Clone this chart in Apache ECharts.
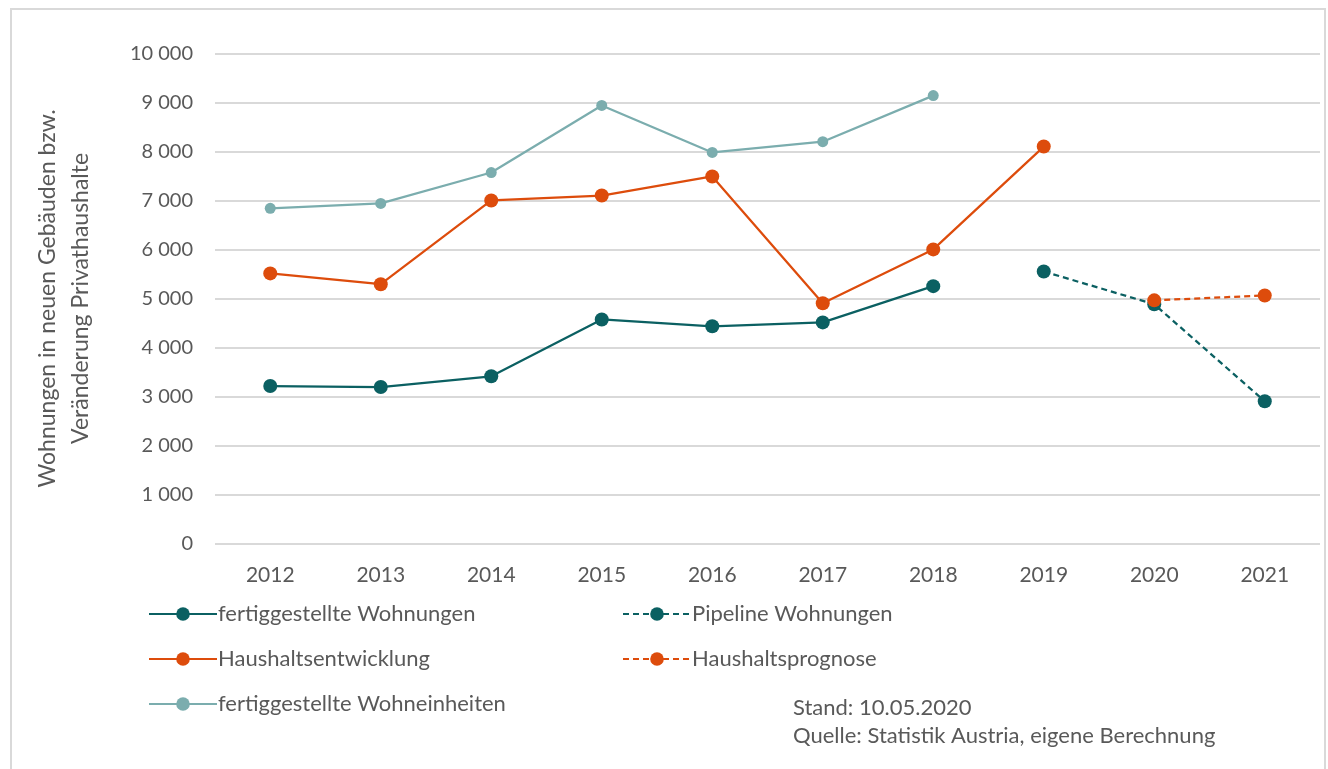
<!DOCTYPE html>
<html>
<head>
<meta charset="utf-8">
<script src="https://cdn.jsdelivr.net/npm/echarts@6/dist/echarts.min.js"></script>
<style>
  html, body { margin: 0; padding: 0; background: #fff; }
  #main { width: 1328px; height: 769px; }
</style>
</head>
<body>
<div id="main"></div>
<script>
var years = ['2012', '2013', '2014', '2015', '2016', '2017', '2018', '2019', '2020', '2021'];
var fertigWohnungen = [3210, 3190, 3410, 4570, 4430, 4510, 5250, null, null, null];
var pipelineWohnungen = [null, null, null, null, null, null, null, 5550, 4880, 2900];
var haushaltsentwicklung = [5510, 5290, 7000, 7100, 7490, 4900, 6000, 8100, null, null];
var haushaltsprognose = [null, null, null, null, null, null, null, null, 4960, 5060];
var fertigWohneinheiten = [6840, 6940, 7570, 8940, 7980, 8200, 9140, null, null, null];

var chartDom = document.getElementById('main');
var myChart = echarts.init(chartDom);
var font = 'Lato, "Open Sans", sans-serif';
var dark = '#0b6062';
var orange = '#dd4c0c';
var light = '#7badae';

function fmt(v) {
  return String(v).replace(/\B(?=(\d{3})+(?!\d))/g, ' ');
}

var legendText = { fontFamily: font, fontSize: 22, color: '#595959', padding: [0, 0, 0, -4] };

var option = {
  animation: false,
  textStyle: { fontFamily: font },
  grid: { left: 215, right: 8, top: 53.5, bottom: 225.7 },
  legend: [
    {
      left: 143, top: 598, orient: 'vertical', itemWidth: 68, itemHeight: 17, itemGap: 23,
      textStyle: legendText,
      data: ['fertiggestellte Wohnungen', 'Haushaltsentwicklung', 'fertiggestellte Wohneinheiten']
    },
    {
      left: 617, top: 598, orient: 'vertical', itemWidth: 68, itemHeight: 17, itemGap: 23,
      textStyle: legendText,
      data: ['Pipeline Wohnungen', 'Haushaltsprognose']
    }
  ],
  xAxis: {
    type: 'category',
    data: years,
    boundaryGap: true,
    axisLine: { show: false },
    axisTick: { show: false },
    axisLabel: { fontFamily: font, fontSize: 21, color: '#595959', margin: 21 }
  },
  yAxis: {
    type: 'value',
    min: 0, max: 10000, interval: 1000,
    name: 'Wohnungen in neuen Gebäuden bzw.\nVeränderung Privathaushalte',
    nameLocation: 'middle',
    nameGap: 118,
    nameTextStyle: { fontFamily: font, fontSize: 23, color: '#595959', lineHeight: 33, align: 'center' },
    axisLine: { show: false },
    axisTick: { show: false },
    axisLabel: { fontFamily: font, fontSize: 20, color: '#595959', margin: 22, formatter: fmt },
    splitLine: { lineStyle: { color: '#d9d9d9', width: 2 } }
  },
  graphic: [
    {
      type: 'rect', silent: true,
      shape: { x: 11, y: 9, width: 1314, height: 780 },
      style: { fill: 'none', stroke: '#d9d9d9', lineWidth: 2 }
    },
    {
      type: 'text', left: 793, top: 697,
      style: { text: 'Stand: 10.05.2020', font: '22px ' + font, fill: '#595959' }
    },
    {
      type: 'text', left: 793, top: 725,
      style: { text: 'Quelle: Statistik Austria, eigene Berechnung', font: '22px ' + font, fill: '#595959' }
    }
  ],
  series: [
    {
      name: 'fertiggestellte Wohneinheiten', type: 'line', data: fertigWohneinheiten,
      symbol: 'circle', symbolSize: 11,
      itemStyle: { color: light }, lineStyle: { color: light, width: 2.25 }
    },
    {
      name: 'fertiggestellte Wohnungen', type: 'line', data: fertigWohnungen,
      symbol: 'circle', symbolSize: 14,
      itemStyle: { color: dark }, lineStyle: { color: dark, width: 2.25 }
    },
    {
      name: 'Haushaltsentwicklung', type: 'line', data: haushaltsentwicklung,
      symbol: 'circle', symbolSize: 14,
      itemStyle: { color: orange }, lineStyle: { color: orange, width: 2.25 }
    },
    {
      name: 'Pipeline Wohnungen', type: 'line', data: pipelineWohnungen,
      symbol: 'circle', symbolSize: 14,
      itemStyle: { color: dark }, lineStyle: { color: dark, width: 2.25, type: [6, 4] }
    },
    {
      name: 'Haushaltsprognose', type: 'line', data: haushaltsprognose,
      symbol: 'circle', symbolSize: 14,
      itemStyle: { color: orange }, lineStyle: { color: orange, width: 2.25, type: [6, 4] }
    }
  ]
};

option && myChart.setOption(option);
</script>
</body>
</html>
